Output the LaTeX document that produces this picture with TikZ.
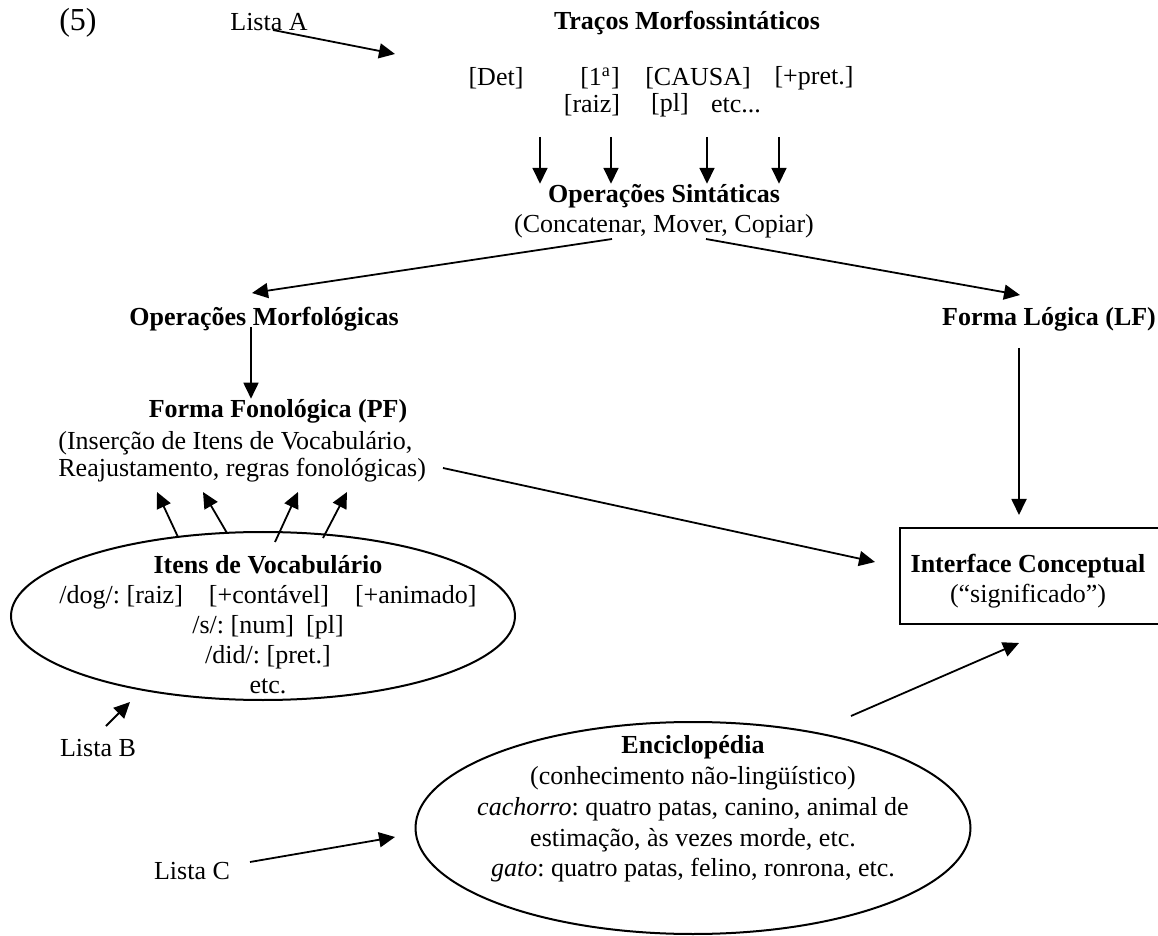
\documentclass[tikz,border=0pt]{standalone}
\usepackage{fontspec}
\setmainfont{Liberation Serif}
\usetikzlibrary{shapes.geometric,arrows.meta}
\frenchspacing
\begin{document}
\begin{tikzpicture}[x=0.5pt,y=-0.5pt,
  every node/.style={font=\fontsize{13}{15}\selectfont, inner sep=0pt},
  txt/.style={align=center},
  ttl/.style={font=\fontsize{13}{15}\selectfont\bfseries},
  arr/.style={-{Triangle[length=8pt,width=7.5pt]}, line width=0.9pt},
  oval/.style={draw, ellipse, line width=1pt, inner sep=0pt},
  frame/.style={draw, line width=1pt}]
\useasboundingbox (0,0) rectangle (1158,936);

% top
\node[font=\fontsize{16}{18}\selectfont] (ex) at (78,23) {(5)};
\node (listaA) at (269,22) {Lista A};
\node[ttl] (tracos) at (687,23) {Traços Morfossintáticos};
\node (fDet) at (496,78) {[Det]};
\node (f1a) at (600,78) {[1\textsuperscript{a}]};
\node (fCausa) at (698,78) {[CAUSA]};
\node (fPret) at (814,78) {[+pret.]};
\node (fRaiz) at (592,105) {[raiz]};
\node (fPl) at (670,105) {[pl]};
\node (fEtc) at (736,105) {etc...};

\node[txt] (opsint) at (664,211) {\textbf{Operações Sintáticas}\\(Concatenar, Mover, Copiar)};

\node[ttl] (opmorf) at (264,319) {Operações Morfológicas};
\node[ttl] (lf) at (1049,319) {Forma Lógica (LF)};

\node[ttl] (pf) at (278,411) {Forma Fonológica (PF)};
\node[align=left, anchor=west, font=\fontsize{13}{13.5}\selectfont] (pfbody) at (58,457) {(Inserção de Itens de Vocabulário,\\Reajustamento, regras fonológicas)};

% vocabulary
\node[oval, minimum width=252pt, minimum height=84pt] (vocab) at (263,616) {};
\node[txt] (vocabtxt) at (268,625) {\textbf{Itens de Vocabulário}\\/dog/: [raiz]\hspace{13pt}[+contável]\hspace{13pt}[+animado]\\/s/: [num]\hspace{6pt}[pl]\\/did/: [pret.]\\etc.};

\node (listaB) at (98,748) {Lista B};
\node (listaC) at (192,871) {Lista C};

% encyclopedia
\node[oval, minimum width=277.5pt, minimum height=106pt] (enc) at (693,828) {};
\node[txt, font=\fontsize{13}{15.4}\selectfont] (enctxt) at (693,809) {\textbf{Enciclopédia}\\(conhecimento não-lingüístico)\\\textit{cachorro}: quatro patas, canino, animal de\\estimação, às vezes morde, etc.\\\textit{gato}: quatro patas, felino, ronrona, etc.};

% interface box
\node[frame, minimum width=131.5pt, minimum height=48pt, anchor=north west] (iface) at (899,527) {};
\node[txt] (ifacetxt) at (1028,581) {\textbf{Interface Conceptual}\\(“significado”)};

% coordinates for connector ends
\coordinate (laOut) at (273,30);
\coordinate (laIn) at (395,54);
\coordinate (d1) at (540,137);
\coordinate (d2) at (611,137);
\coordinate (d3) at (707,137);
\coordinate (d4) at (779,137);
\coordinate (osL) at (612,239);
\coordinate (osR) at (706,239);
\coordinate (omIn) at (252,293);
\coordinate (lfIn) at (1020,295);
\coordinate (omOut) at (251,327);
\coordinate (pfOut) at (443,468);
\coordinate (ifL) at (875,562);
\coordinate (lfOut) at (1019,348);
\coordinate (ifT) at (1019,515);
\coordinate (u1) at (178,537);
\coordinate (u2) at (227,533);
\coordinate (u3) at (275,542);
\coordinate (u4) at (323,538);
\coordinate (t1) at (157,492);
\coordinate (t2) at (203,492);
\coordinate (t3) at (298,492);
\coordinate (t4) at (347,492);
\coordinate (lbOut) at (106,726);
\coordinate (lbIn) at (130,702);
\coordinate (lcOut) at (250,862);
\coordinate (lcIn) at (395,837);
\coordinate (encOut) at (851,716);
\coordinate (ifB) at (1019,643);

% connectors
\draw[arr] (laOut) -- (laIn);
\foreach \d in {d1,d2,d3,d4} \draw[arr] (\d) -- (\d |- opsint.north);
\draw[arr] (osL) -- (omIn);
\draw[arr] (osR) -- (lfIn);
\draw[arr] (omOut) -- (omOut |- pf.north);
\draw[arr] (pfOut) -- (ifL);
\draw[arr] (lfOut) -- (ifT);
\draw[arr] (u1) -- (t1);
\draw[arr] (u2) -- (t2);
\draw[arr] (u3) -- (t3);
\draw[arr] (u4) -- (t4);
\draw[arr] (lbOut) -- (lbIn);
\draw[arr] (lcOut) -- (lcIn);
\draw[arr] (encOut) -- (ifB);
\end{tikzpicture}
\end{document}
